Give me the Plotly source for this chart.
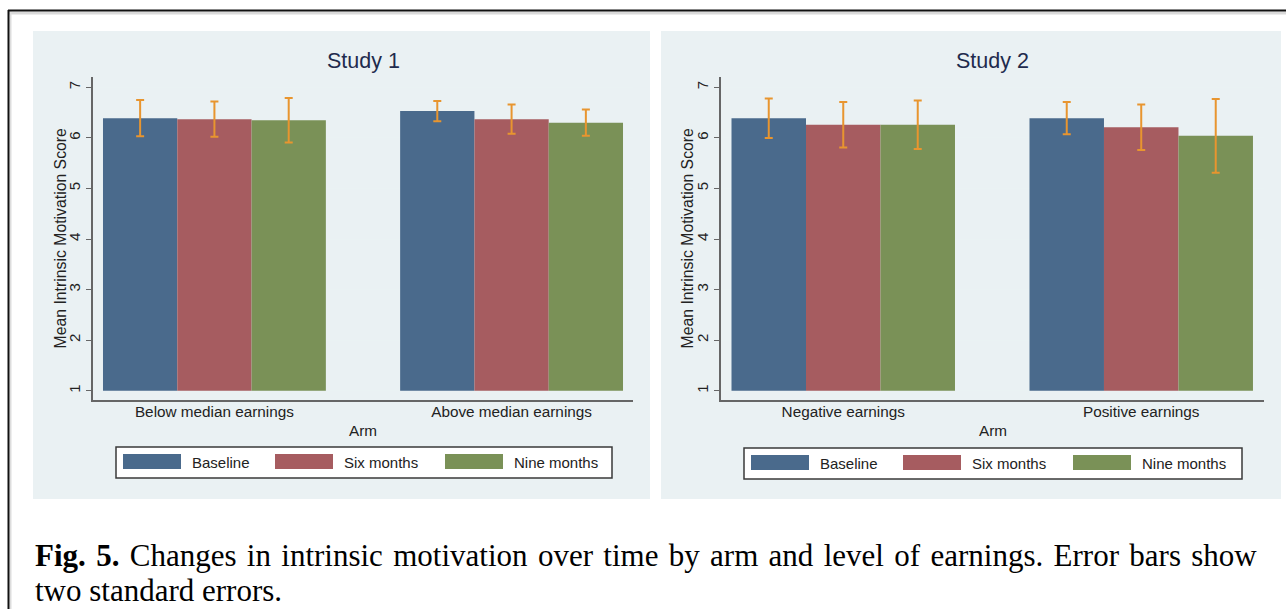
import plotly.graph_objects as go

# Figure data: mean intrinsic motivation score by earnings level and wave
waves = ["Baseline", "Six months", "Nine months"]
wave_colors = ["#4a6a8c", "#a65c60", "#7a9157"]

study1_groups = ["Below median earnings", "Above median earnings"]
study1_means = {
    "Baseline": [6.39, 6.53],
    "Six months": [6.37, 6.37],
    "Nine months": [6.35, 6.30],
}
study1_err = {  # two standard errors
    "Baseline": [0.36, 0.20],
    "Six months": [0.35, 0.29],
    "Nine months": [0.44, 0.26],
}

study2_groups = ["Negative earnings", "Positive earnings"]
study2_means = {
    "Baseline": [6.39, 6.39],
    "Six months": [6.26, 6.21],
    "Nine months": [6.26, 6.04],
}
study2_err = {
    "Baseline": [0.39, 0.32],
    "Six months": [0.45, 0.45],
    "Nine months": [0.48, 0.73],
}

y_ticks = [1, 2, 3, 4, 5, 6, 7]
bar_base = 1

W, H = 1286, 609


def px_x(v):
    return v / W


def px_y(v):
    return 1 - v / H


panel_bg = "#eaf1f3"
grid_col = "#eaf2f3"
err_col = "#e8952f"
axis_col = "#666666"
text_col = "#222222"
title_col = "#1f2b4d"
sans = "Liberation Sans, Arial"

fig = go.Figure()

studies = [
    (study1_groups, study1_means, study1_err, "x", "y"),
    (study2_groups, study2_means, study2_err, "x2", "y2"),
]

slot = len(waves) + 1  # one empty bar slot between groups
for groups, means, errs, xa, ya in studies:
    for s, wave in enumerate(waves):
        xs = [g * slot + s for g in range(len(groups))]
        vals = means[wave]
        fig.add_trace(go.Bar(
            x=xs,
            y=[v - bar_base for v in vals],
            base=bar_base,
            width=1,
            marker=dict(color=wave_colors[s], line=dict(width=0)),
            name=wave,
            showlegend=False,
            xaxis=xa, yaxis=ya,
        ))
    for s, wave in enumerate(waves):
        xs = [g * slot + s for g in range(len(groups))]
        fig.add_trace(go.Scatter(
            x=xs,
            y=means[wave],
            mode="markers",
            marker=dict(size=0.1, color=err_col, opacity=0),
            error_y=dict(type="data", array=errs[wave], visible=True,
                         color=err_col, thickness=2, width=4),
            showlegend=False,
            hoverinfo="skip",
            xaxis=xa, yaxis=ya,
        ))

# Plot region geometry (pixels)
plot_top, plot_bottom = 77, 400
panels = [
    dict(bg=(33, 31, 650, 499), plot=(93, 633), xr=[-0.6345, 6.6345],
         title="Study 1", groups=study1_groups, ytitle_x=60,
         legend_box=(116, 447, 612, 478)),
    dict(bg=(661, 31, 1281, 499), plot=(721, 1264), xr=[-0.641, 6.648],
         title="Study 2", groups=study2_groups, ytitle_x=687,
         legend_box=(744, 448, 1242, 479)),
]

shapes = []
annotations = []

# Outer frame of the figure box
shapes.append(dict(type="line", xref="paper", yref="paper",
                   x0=px_x(8), x1=1, y0=px_y(13), y1=px_y(13),
                   line=dict(color="#d9d9d9", width=3), layer="below"))
shapes.append(dict(type="line", xref="paper", yref="paper",
                   x0=px_x(10.5), x1=px_x(10.5), y0=px_y(11), y1=0,
                   line=dict(color="#dddddd", width=2), layer="below"))
shapes.append(dict(type="line", xref="paper", yref="paper",
                   x0=px_x(8), x1=1, y0=px_y(10.5), y1=px_y(10.5),
                   line=dict(color="#111111", width=2)))
shapes.append(dict(type="line", xref="paper", yref="paper",
                   x0=px_x(8.5), x1=px_x(8.5), y0=px_y(10), y1=0,
                   line=dict(color="#111111", width=2)))

for i, p in enumerate(panels):
    x0, y0, x1, y1 = p["bg"]
    shapes.append(dict(type="rect", xref="paper", yref="paper",
                       x0=px_x(x0), x1=px_x(x1), y0=px_y(y1), y1=px_y(y0),
                       fillcolor=panel_bg, line=dict(width=0), layer="below"))
    pl, pr = p["plot"]
    cx = (pl + pr) / 2
    annotations.append(dict(text=p["title"], xref="paper", yref="paper",
                            x=px_x(cx), y=px_y(61), showarrow=False,
                            xanchor="center", yanchor="middle",
                            font=dict(family=sans, size=21.5, color=title_col)))
    annotations.append(dict(text="Arm", xref="paper", yref="paper",
                            x=px_x(cx), y=px_y(430), showarrow=False,
                            xanchor="center", yanchor="middle",
                            font=dict(family=sans, size=15.3, color=text_col)))
    annotations.append(dict(text="Mean Intrinsic Motivation Score",
                            xref="paper", yref="paper", textangle=-90,
                            x=px_x(p["ytitle_x"]),
                            y=px_y((plot_top + plot_bottom) / 2),
                            showarrow=False, xanchor="center", yanchor="middle",
                            font=dict(family=sans, size=15.8, color=text_col)))
    # Legend box with wide colour swatches
    lx0, ly0, lx1, ly1 = p["legend_box"]
    shapes.append(dict(type="rect", xref="paper", yref="paper",
                       x0=px_x(lx0), x1=px_x(lx1), y0=px_y(ly1), y1=px_y(ly0),
                       fillcolor="white", line=dict(color="#3a3a3a", width=1.5)))
    item_offsets = [7, 159, 329]
    for s, wave in enumerate(waves):
        sx = lx0 + item_offsets[s]
        shapes.append(dict(type="rect", xref="paper", yref="paper",
                           x0=px_x(sx), x1=px_x(sx + 58),
                           y0=px_y(ly0 + 22), y1=px_y(ly0 + 7),
                           fillcolor=wave_colors[s], line=dict(width=0)))
        annotations.append(dict(text=wave, xref="paper", yref="paper",
                                x=px_x(sx + 67), y=px_y(ly0 + 15),
                                showarrow=False, xanchor="left", yanchor="middle",
                                font=dict(family=sans, size=15, color=text_col)))

# Caption (first line justified by widening the word gaps slightly)
cap_font = dict(family="Liberation Serif, Times New Roman", size=31, color="black")
cap_line1 = ("Changes in intrinsic motivation over time by arm and level of "
             "earnings. Error bars show")
cap_line1 = cap_line1.replace(" ", " \u200a")
annotations.append(dict(
    text="<b>Fig.\u200a 5.</b> \u200a" + cap_line1,
    xref="paper", yref="paper", x=px_x(33), y=px_y(555), showarrow=False,
    xanchor="left", yanchor="middle", font=cap_font))
annotations.append(dict(
    text="two standard errors.",
    xref="paper", yref="paper", x=px_x(33), y=px_y(590), showarrow=False,
    xanchor="left", yanchor="middle", font=cap_font))

ydom = [px_y(plot_bottom), px_y(plot_top)]
yrange = [0.816, 7.204]

layout_axes = {}
for i, p in enumerate(panels):
    sfx = "" if i == 0 else "2"
    pl, pr = p["plot"]
    layout_axes["xaxis" + sfx] = dict(
        domain=[px_x(pl), px_x(pr)], range=p["xr"],
        tickvals=[g * slot + 1 for g in range(len(p["groups"]))],
        ticktext=p["groups"], ticks="", showgrid=False, zeroline=False,
        showline=True, linecolor=axis_col, linewidth=1.6,
        ticklabelstandoff=-3,
        tickfont=dict(family=sans, size=15.3, color=text_col),
        anchor="y" + sfx, fixedrange=True,
    )
    layout_axes["yaxis" + sfx] = dict(
        domain=ydom, range=yrange, tickvals=y_ticks,
        ticks="outside", ticklen=5, tickwidth=1.2, tickcolor=axis_col,
        tickangle=-90, showgrid=True, gridcolor=grid_col, gridwidth=1,
        zeroline=False, showline=True, linecolor=axis_col, linewidth=1.6,
        tickfont=dict(family=sans, size=15, color=text_col),
        anchor="x" + sfx, fixedrange=True,
    )

fig.update_layout(
    width=W, height=H,
    margin=dict(l=0, r=0, t=0, b=0),
    paper_bgcolor="white", plot_bgcolor="white",
    showlegend=False,
    shapes=shapes, annotations=annotations,
    **layout_axes,
)

fig.write_html("out.html", config={"displayModeBar": False})
